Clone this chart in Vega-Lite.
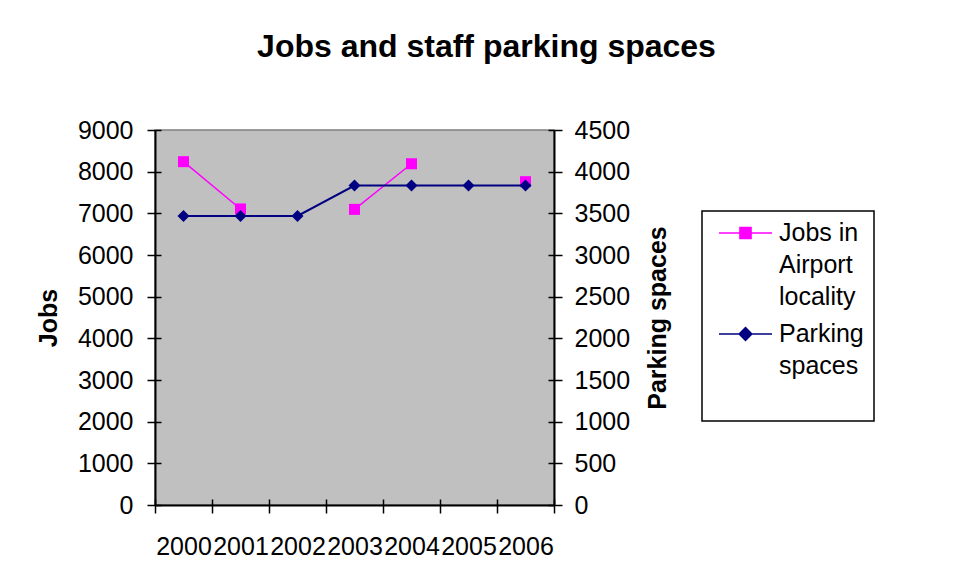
{
  "$schema": "https://vega.github.io/schema/vega-lite/v6.json",
  "width": 399,
  "height": 375,
  "autosize": "none",
  "padding": {"left": 155, "top": 130, "right": 402, "bottom": 78},
  "background": "white",
  "title": {
    "text": "Jobs and staff parking spaces",
    "font": "Liberation Sans",
    "fontSize": 32,
    "fontWeight": "bold",
    "color": "black",
    "anchor": "middle",
    "frame": "group",
    "baseline": "alphabetic",
    "dx": 132,
    "dy": -29,
    "offset": 0
  },
  "config": {
    "font": "Liberation Sans",
    "view": {"fill": "#C0C0C0", "stroke": "#808080", "strokeWidth": 1.5},
    "axis": {
      "grid": false,
      "domainColor": "black",
      "domainWidth": 2,
      "tickColor": "black",
      "tickWidth": 1.5,
      "tickSize": 8,
      "labelFont": "Liberation Sans",
      "labelFontSize": 25,
      "labelColor": "black",
      "titleFont": "Liberation Sans",
      "titleFontSize": 25,
      "titleFontWeight": "bold",
      "titleColor": "black"
    }
  },
  "data": {
    "values": [
      {"year": "2000", "jobs": 8240, "parking": 3468},
      {"year": "2001", "jobs": 7105, "parking": 3468},
      {"year": "2002", "jobs": null, "parking": 3468},
      {"year": "2003", "jobs": 7095, "parking": 3833},
      {"year": "2004", "jobs": 8190, "parking": 3833},
      {"year": "2005", "jobs": null, "parking": 3833},
      {"year": "2006", "jobs": 7760, "parking": 3833}
    ]
  },
  "layer": [
    {
      "encoding": {
        "x": {
          "field": "year",
          "type": "ordinal",
          "bandPosition": 0.5,
          "scale": {"type": "band", "paddingInner": 0, "paddingOuter": 0},
          "axis": {"title": null, "labelAngle": 0, "tickBand": "extent", "labelPadding": 21}
        },
        "y": {
          "field": "jobs",
          "type": "quantitative",
          "scale": {"domain": [0, 9000], "nice": false, "zero": true},
          "axis": {
            "title": "Jobs",
            "values": [0, 1000, 2000, 3000, 4000, 5000, 6000, 7000, 8000, 9000],
            "format": "d",
            "labelPadding": 14,
            "titlePadding": 16
          }
        },
        "color": {
          "datum": "Jobs in Airport locality",
          "scale": {"domain": ["Jobs in Airport locality", "Parking spaces"], "range": ["#FF00FF", "#000080"]},
          "legend": {
            "orient": "none",
            "legendX": 547,
            "legendY": 81,
            "title": null,
            "strokeColor": "black",
            "fillColor": "white",
            "padding": 10,
            "rowPadding": 12,
            "clipHeight": 24,
            "symbolOffset": 6,
            "labelFont": "Liberation Sans",
            "labelFontSize": 25,
            "labelColor": "black",
            "labelOffset": 6,
            "symbolSize": 2809,
            "labelExpr": "datum.label == 'Parking spaces' ? ['Parking', 'spaces', ' '] : ['Jobs in', 'Airport', 'locality']",
            "encode": {
              "legend": {"update": {"strokeWidth": {"value": 1.5}}},
              "symbols": {
                "update": {
                  "shape": {"signal": "datum.value == 'Parking spaces' ? 'M-1,0H1M0,-0.24L0.24,0L0,0.24L-0.24,0Z' : 'M-1,0H1M-0.21,-0.21H0.21V0.21H-0.21Z'"},
                  "fill": {"signal": "datum.value == 'Parking spaces' ? '#000080' : '#FF00FF'"},
                  "stroke": {"signal": "datum.value == 'Parking spaces' ? '#000080' : '#FF00FF'"},
                  "strokeWidth": {"value": 1.5},
                  "opacity": {"value": 1}
                }
              },
              "labels": {"update": {"lineHeight": {"value": 32}}}
            }
          }
        }
      },
      "layer": [
        {"mark": {"type": "line", "strokeWidth": 1.5, "invalid": "break-paths-show-domains"}},
        {"mark": {"type": "point", "shape": "square", "filled": true, "opacity": 1, "size": 121}}
      ]
    },
    {
      "encoding": {
        "x": {
          "field": "year",
          "type": "ordinal",
          "bandPosition": 0.5,
          "scale": {"type": "band", "paddingInner": 0, "paddingOuter": 0},
          "axis": null
        },
        "y": {
          "field": "parking",
          "type": "quantitative",
          "scale": {"domain": [0, 4500], "nice": false, "zero": true},
          "axis": {
            "title": "Parking spaces",
            "orient": "right",
            "values": [0, 500, 1000, 1500, 2000, 2500, 3000, 3500, 4000, 4500],
            "format": "d",
            "labelPadding": 12,
            "titlePadding": 16,
            "titleAngle": 270,
            "titleBaseline": "top"
          }
        },
        "color": {"datum": "Parking spaces"}
      },
      "layer": [
        {"mark": {"type": "line", "strokeWidth": 2}},
        {"mark": {"type": "point", "shape": "diamond", "filled": true, "opacity": 1, "size": 144}}
      ]
    },
    {
      "mark": {"type": "point", "opacity": 0},
      "encoding": {
        "x": {
          "field": "year",
          "type": "ordinal",
          "bandPosition": 0.5,
          "scale": {"type": "band", "paddingInner": 0, "paddingOuter": 0},
          "axis": {"title": null, "labels": false, "domain": false, "tickBand": "extent", "tickSize": -6, "orient": "bottom"}
        },
        "y": {
          "field": "parking",
          "type": "quantitative",
          "scale": {"domain": [0, 4500], "nice": false, "zero": true},
          "axis": {
            "title": null,
            "orient": "left",
            "labels": false,
            "domain": false,
            "tickSize": -6,
            "values": [0, 500, 1000, 1500, 2000, 2500, 3000, 3500, 4000, 4500]
          }
        }
      }
    },
    {
      "mark": {"type": "point", "opacity": 0},
      "encoding": {
        "x": {
          "field": "year",
          "type": "ordinal",
          "bandPosition": 0.5,
          "scale": {"type": "band", "paddingInner": 0, "paddingOuter": 0},
          "axis": null
        },
        "y": {
          "field": "parking",
          "type": "quantitative",
          "scale": {"domain": [0, 4500], "nice": false, "zero": true},
          "axis": {
            "title": null,
            "orient": "right",
            "labels": false,
            "domain": false,
            "tickSize": -6,
            "values": [0, 500, 1000, 1500, 2000, 2500, 3000, 3500, 4000, 4500]
          }
        }
      }
    }
  ],
  "resolve": {"scale": {"y": "independent", "x": "independent"}}
}
